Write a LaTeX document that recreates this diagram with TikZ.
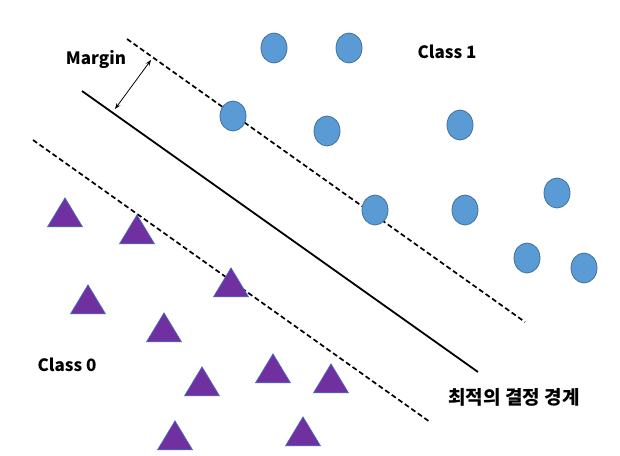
\documentclass[tikz,border=0pt]{standalone}
\usepackage{fontspec}
\setmainfont{Noto Sans CJK KR}
\usetikzlibrary{arrows.meta,shapes.geometric}
\definecolor{DotBlue}{HTML}{5B9BD5}
\definecolor{DotEdge}{HTML}{41719C}
\definecolor{TriPurple}{HTML}{7030A0}
\definecolor{TriEdge}{HTML}{4472C4}

\begin{document}
\begin{tikzpicture}[
  x=1pt,y=-1pt,
  dot/.style={ellipse,draw=DotEdge,fill=DotBlue,line width=0.8pt,minimum width=26pt,minimum height=30pt,inner sep=0pt},
  tri/.style={isosceles triangle,isosceles triangle stretches,shape border rotate=90,draw=TriEdge,fill=TriPurple,line width=0.6pt,minimum width=35pt,minimum height=29pt,inner sep=0pt,anchor=apex},
  txt/.style={font=\bfseries\fontsize{17}{20}\selectfont},
  kor/.style={font=\bfseries\fontsize{19}{22}\selectfont},
  bound/.style={line width=1.8pt},
  marg/.style={dash pattern=on 5pt off 3pt,line width=1.7pt},
  gap/.style={{Stealth[length=6pt,width=4.5pt]}-{Stealth[length=6pt,width=4.5pt]},line width=0.8pt}
]
\useasboundingbox[fill=white] (0,0) rectangle (620,455);
% boundary and margins
\coordinate (u1) at (127,39);
\coordinate (u2) at (525,322);
\coordinate (s1) at (82,91);
\coordinate (s2) at (478,372);
\coordinate (l1) at (33,140);
\coordinate (l2) at (430,422);
\draw[marg] (u1)--(u2);
\draw[bound] (s1)--(s2);
\draw[marg] (l1)--(l2);
\coordinate (m1) at (151,60);
\coordinate (m2) at (115,109);
\draw[gap] (m1)--(m2);
% class 1
\node[dot] (c1) at (274,48) {};
\node[dot] (c2) at (349,48) {};
\node[dot] (c3) at (233,116) {};
\node[dot] (c4) at (327,131) {};
\node[dot] (c5) at (460,125) {};
\node[dot] (c6) at (375,210) {};
\node[dot] (c7) at (465,210) {};
\node[dot] (c8) at (557,193) {};
\node[dot] (c9) at (527,258) {};
\node[dot] (c10) at (584,268) {};
% class 0
\node[tri] (t1) at (65,197) {};
\node[tri] (t2) at (137,214) {};
\node[tri] (t3) at (231,267) {};
\node[tri] (t4) at (88,284) {};
\node[tri] (t5) at (164,312) {};
\node[tri] (t6) at (202,366) {};
\node[tri] (t7) at (273,353) {};
\node[tri] (t8) at (331,363) {};
\node[tri] (t9) at (175,420) {};
\node[tri] (t10) at (303,416) {};
% labels
\node[txt] (margin) at (96,59) {Margin};
\node[txt] (cls1) at (447,52) {Class 1};
\node[txt] (cls0) at (67,365) {Class 0};
\node[kor] (best) at (514,397) {최적의 결정 경계};
\end{tikzpicture}
\end{document}
